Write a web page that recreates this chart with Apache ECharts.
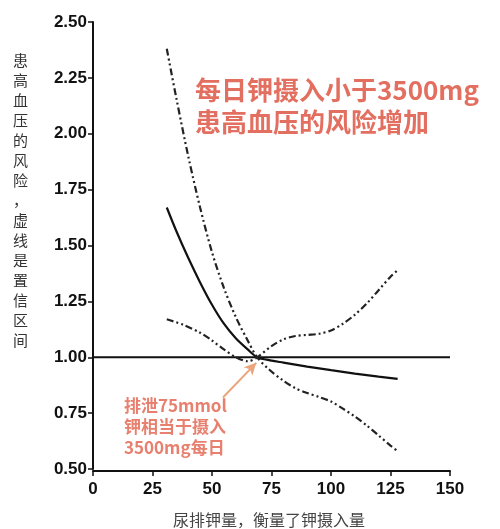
<!DOCTYPE html>
<html><head><meta charset="utf-8">
<script src="https://cdn.jsdelivr.net/npm/echarts@6/dist/echarts.min.js"></script>
<style>html,body{margin:0;padding:0;background:#fff}#c{width:500px;height:529px}</style>
</head><body><div id="c"></div>
<script>
// Data (x = urinary potassium excretion mmol, y = relative risk)
const mainCurve = [[31,1.67],[35,1.565],[40,1.445],[45,1.335],[50,1.235],[55,1.15],[60,1.085],[65,1.035],[69,1.00],[75,0.985],[80,0.976],[90,0.958],[100,0.942],[110,0.927],[120,0.913],[128,0.903]];
const ciUpperLeft = [[31,2.38],[35,2.16],[40,1.90],[45,1.67],[50,1.47],[55,1.31],[60,1.18],[65,1.075],[69,1.00],[74,0.945],[80,0.895],[85,0.862],[90,0.84],[95,0.822],[100,0.802],[105,0.77],[110,0.735],[115,0.695],[120,0.65],[125,0.605],[128,0.58]];
const ciLowerLeft = [[31,1.17],[38,1.145],[45,1.11],[50,1.075],[55,1.035],[60,1.0],[65,0.982],[69,1.00],[75,1.05],[80,1.08],[85,1.095],[90,1.10],[95,1.105],[100,1.12],[105,1.15],[110,1.19],[115,1.24],[120,1.30],[125,1.36],[128,1.39]];
const refLine = [[0,1.0],[150,1.0]];
const xTicks = [0,25,50,75,100,125,150];
const yTicks = [0.5,0.75,1.0,1.25,1.5,1.75,2.0,2.25,2.5];
const arrowFrom = [54.6,0.82];
const arrowTo = [68.6,0.975];

const titleLines = ['每日钾摄入小于3500mg','患高血压的风险增加'];
const noteLines = ['排泄75mmol','钾相当于摄入','3500mg每日'];
const yName = '患高血压的风险，虚线是置信区间';
const xName = '尿排钾量，衡量了钾摄入量';

const chart = echarts.init(document.getElementById('c'));
const dashDot = [7,3,2,3,2,3];
const labelFont = {fontFamily:'Liberation Sans, Arial, sans-serif', fontSize:17, fontWeight:'bold', color:'#111'};
chart.setOption({
  animation:false,
  backgroundColor:'#fff',
  grid:{left:93, top:22, width:357, height:447},
  xAxis:{type:'value', min:xTicks[0], max:xTicks[xTicks.length-1], interval:25, offset:2,
    axisLine:{lineStyle:{color:'#111', width:2}},
    axisTick:{length:5, lineStyle:{color:'#111', width:1.5}},
    axisLabel:Object.assign({margin:10}, labelFont),
    splitLine:{show:false}},
  yAxis:{type:'value', min:yTicks[0], max:yTicks[yTicks.length-1], interval:0.25, offset:2,
    axisLine:{show:true, lineStyle:{color:'#111', width:2}},
    axisTick:{show:true, length:5, lineStyle:{color:'#111', width:1.5}},
    axisLabel:Object.assign({margin:4, formatter:v=>v.toFixed(2)}, labelFont),
    splitLine:{show:false}},
  series:[
    {type:'line', data:refLine, symbol:'none', lineStyle:{color:'#111', width:2}, silent:true},
    {type:'line', data:mainCurve, symbol:'none', smooth:0.3, lineStyle:{color:'#111', width:2.2}},
    {type:'line', data:ciUpperLeft, symbol:'none', smooth:0.3, lineStyle:{color:'#222', width:2.2, type:dashDot}},
    {type:'line', data:ciLowerLeft, symbol:'none', smooth:0.3, lineStyle:{color:'#222', width:2.2, type:dashDot},
      markLine:{silent:true, symbol:['none','arrow'], symbolSize:[9,12], label:{show:false},
        lineStyle:{color:'#eba57c', width:2, type:'solid'},
        data:[[{coord:arrowFrom},{coord:arrowTo}]]}}
  ],
  graphic:[
    {type:'text', left:195, top:74, style:{text:titleLines.join('\n'), font:'bold 26px "Noto Sans CJK SC", sans-serif', fill:'#e36f60', lineHeight:32}},
    {type:'text', left:124, top:395, style:{text:noteLines.join('\n'), font:'bold 17px "Noto Sans CJK SC", sans-serif', fill:'#e8806f', lineHeight:21}},
    {type:'text', left:13, top:50, style:{text:yName.split('').join('\n'), font:'15px "Noto Sans CJK SC", sans-serif', fill:'#333', lineHeight:20}},
    {type:'text', left:173, top:512, style:{text:xName, font:'16px "Noto Sans CJK SC", sans-serif', fill:'#444'}}
  ]
});
</script></body></html>
